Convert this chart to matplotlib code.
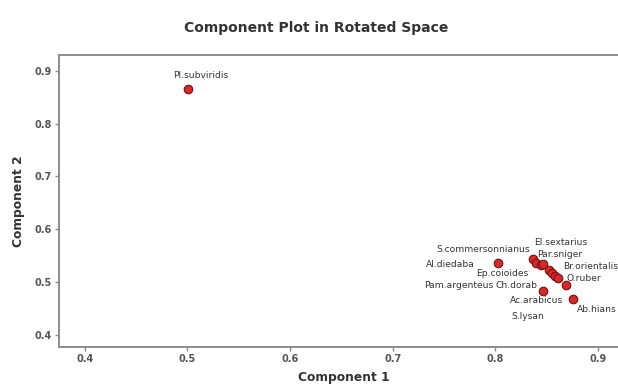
import matplotlib
matplotlib.use("Agg")
import matplotlib.pyplot as plt

# loadings
species = ["Pl.subviridis", "Al.diedaba", "S.commersonnianus", "El.sextarius",
           "Par.sniger", "Ep.coioides", "Br.orientalis", "Pam.argenteus",
           "Ch.dorab", "O.ruber", "S.lysan", "Ac.arabicus", "Ab.hians"]
comp1 = [0.501, 0.803, 0.837, 0.840, 0.844, 0.846, 0.852, 0.855,
         0.858, 0.861, 0.869, 0.846, 0.876]
comp2 = [0.866, 0.536, 0.544, 0.537, 0.532, 0.534, 0.523, 0.518,
         0.511, 0.507, 0.494, 0.483, 0.468]

# label placement relative to the dot (pixels, ha)
offsets = {
    "Pl.subviridis": (12, 13, "center"),
    "Al.diedaba": (-24, -1, "right"),
    "S.commersonnianus": (-3, 9, "right"),
    "El.sextarius": (-2, 20, "left"),
    "Par.sniger": (-3, 11, "left"),
    "Ep.coioides": (-14, -9, "right"),
    "Br.orientalis": (14, 3, "left"),
    "Pam.argenteus": (-58, -13, "right"),
    "Ch.dorab": (-17, -9, "right"),
    "O.ruber": (9, 0, "left"),
    "S.lysan": (-38, -31, "center"),
    "Ac.arabicus": (-6, -9, "center"),
    "Ab.hians": (4, -11, "left"),
}

plt.rcParams["font.family"] = ["DejaVu Sans"]
grey = "#555555"
dark = "#333333"

fig = plt.figure(figsize=(6.18, 3.9), dpi=100)
ax = fig.add_axes([59 / 618, 1 - 347 / 390, (628.8 - 59) / 618, 292 / 390])

ax.scatter(comp1, comp2, s=38, color="#d42a2a", edgecolors="#7a1010",
           linewidths=0.8, zorder=3)

for name, x, y in zip(species, comp1, comp2):
    dx, dy, ha = offsets[name]
    ax.annotate(name, (x, y), xytext=(dx, dy), textcoords="offset pixels",
                ha=ha, va="center", fontsize=6.6, color=dark)

ax.set_xlim(0.375, 0.93)
ax.set_ylim(0.377, 0.93)
ticks = [0.4, 0.5, 0.6, 0.7, 0.8, 0.9]
tick_labels = ["0.4", "0.5", "0.6", "0.7", "0.8", "0.9"]
ax.set_xticks(ticks)
ax.set_yticks(ticks)
ax.set_xticklabels(tick_labels)
ax.set_yticklabels(tick_labels)

for sp in ax.spines.values():
    sp.set_color("#8c8c8c")
    sp.set_linewidth(1.4)
ax.tick_params(colors="#8c8c8c", length=3, width=1, labelsize=7,
               labelcolor=grey, pad=2)
for lab in ax.get_xticklabels() + ax.get_yticklabels():
    lab.set_fontweight("bold")

ax.set_xlabel("Component 1", fontsize=8.8, fontweight="bold", color=dark, labelpad=5)
ax.set_ylabel("Component 2", fontsize=8.8, fontweight="bold", color=dark, labelpad=7)
fig.text(316 / 618, 1 - 28 / 390, "Component Plot in Rotated Space", ha="center",
         va="center", fontsize=10, fontweight="bold", color=dark)

fig.savefig("out.png", dpi=100, facecolor="white")
